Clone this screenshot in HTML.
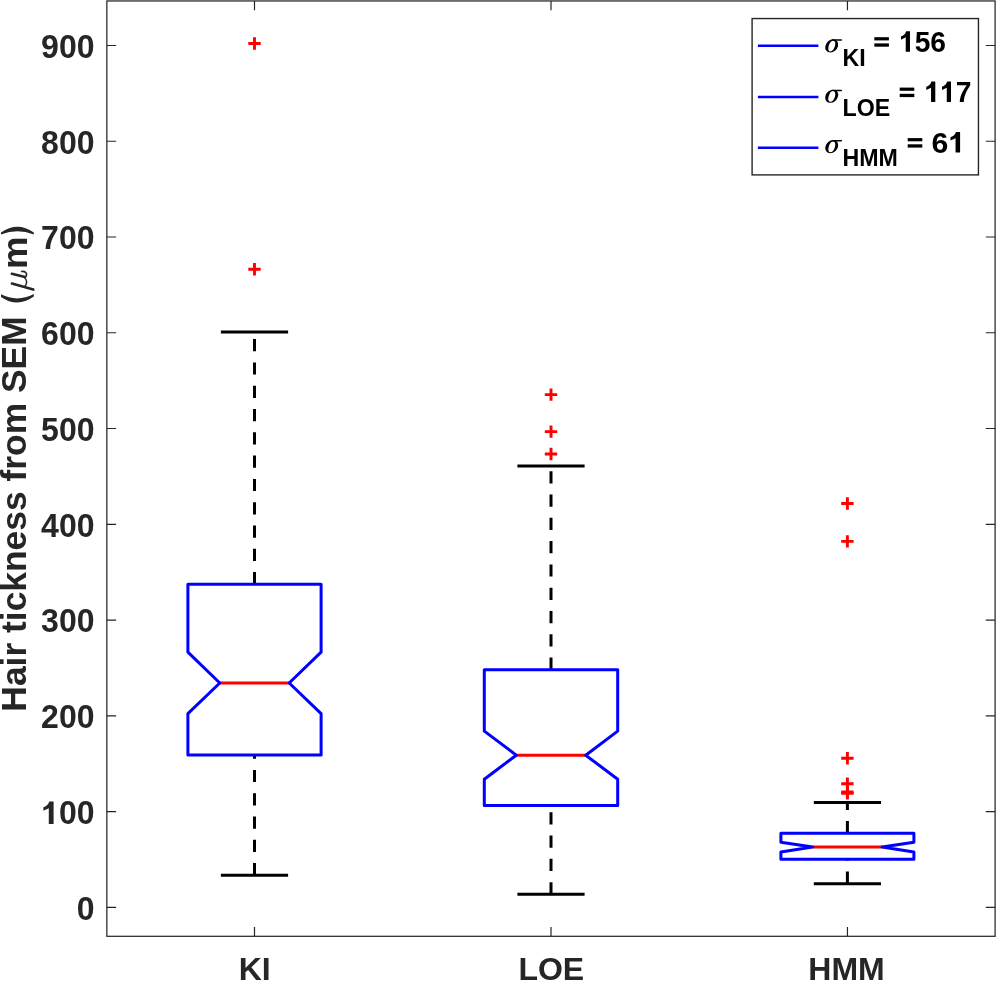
<!DOCTYPE html><html><head><meta charset="utf-8"><style>html,body{margin:0;padding:0;background:#fff;}svg{display:block;will-change:transform;}.t{font-family:"Liberation Sans",sans-serif;font-weight:bold;fill:#262626;}</style></head><body>
<svg width="996" height="982" viewBox="0 0 996 982">
<rect x="0" y="0" width="996" height="982" fill="#fff"/>
<path d="M254.5,584.3V331.9" stroke="#000" stroke-width="3.0" stroke-dasharray="12.2 11.1" fill="none"/>
<path d="M254.5,875.3V755.0" stroke="#000" stroke-width="3.0" stroke-dasharray="12.2 11.1" fill="none"/>
<path d="M220.9,331.9H288.1M220.9,875.3H288.1" stroke="#000" stroke-width="3.0" fill="none"/>
<path d="M219.8,683.0H289.2" stroke="#ff0000" stroke-width="2.9" fill="none"/>
<path d="M187.9,584.3H321.1V652.2L289.2,683.0L321.1,713.6V755.0H187.9V713.6L219.8,683.0L187.9,652.2Z" stroke="#0000ff" stroke-width="3.0" stroke-linejoin="round" fill="none"/>
<path d="M248.3,43.5H260.7M254.5,37.3V49.7" stroke="#ff0000" stroke-width="2.9" fill="none"/>
<path d="M248.3,269.3H260.7M254.5,263.1V275.5" stroke="#ff0000" stroke-width="2.9" fill="none"/>
<path d="M551.0,669.8V465.9" stroke="#000" stroke-width="3.0" stroke-dasharray="12.2 11.1" fill="none"/>
<path d="M551.0,894.35V805.5" stroke="#000" stroke-width="3.0" stroke-dasharray="12.2 11.1" fill="none"/>
<path d="M517.4,465.9H584.6M517.4,894.35H584.6" stroke="#000" stroke-width="3.0" fill="none"/>
<path d="M516.3,755.2H585.7" stroke="#ff0000" stroke-width="2.9" fill="none"/>
<path d="M484.3,669.8H617.7V731.1L585.7,755.2L617.7,779.2V805.5H484.3V779.2L516.3,755.2L484.3,731.1Z" stroke="#0000ff" stroke-width="3.0" stroke-linejoin="round" fill="none"/>
<path d="M544.8,394.6H557.2M551.0,388.40000000000003V400.8" stroke="#ff0000" stroke-width="2.9" fill="none"/>
<path d="M544.8,431.6H557.2M551.0,425.40000000000003V437.8" stroke="#ff0000" stroke-width="2.9" fill="none"/>
<path d="M544.8,454.0H557.2M551.0,447.8V460.2" stroke="#ff0000" stroke-width="2.9" fill="none"/>
<path d="M847.4,833.3V802.45" stroke="#000" stroke-width="3.0" stroke-dasharray="12.2 11.1" fill="none"/>
<path d="M847.4,883.8V859.3" stroke="#000" stroke-width="3.0" stroke-dasharray="12.2 11.1" fill="none"/>
<path d="M813.8,802.45H881.0M813.8,883.8H881.0" stroke="#000" stroke-width="3.0" fill="none"/>
<path d="M812.6999999999999,847.05H882.1" stroke="#ff0000" stroke-width="2.9" fill="none"/>
<path d="M780.9,833.3H913.9V842.3L882.1,847.05L913.9,852.1V859.3H780.9V852.1L812.6999999999999,847.05L780.9,842.3Z" stroke="#0000ff" stroke-width="3.0" stroke-linejoin="round" fill="none"/>
<path d="M841.1999999999999,503.5H853.6M847.4,497.3V509.7" stroke="#ff0000" stroke-width="2.9" fill="none"/>
<path d="M841.1999999999999,541.4H853.6M847.4,535.1999999999999V547.6" stroke="#ff0000" stroke-width="2.9" fill="none"/>
<path d="M841.1999999999999,758.3H853.6M847.4,752.0999999999999V764.5" stroke="#ff0000" stroke-width="2.9" fill="none"/>
<path d="M841.1999999999999,783.7H853.6M847.4,777.5V789.9000000000001" stroke="#ff0000" stroke-width="2.9" fill="none"/>
<path d="M841.1999999999999,792.0H853.6M847.4,785.8V798.2" stroke="#ff0000" stroke-width="2.9" fill="none"/>
<path d="M841.1999999999999,793.4H853.6M847.4,787.1999999999999V799.6" stroke="#ff0000" stroke-width="2.9" fill="none"/>
<rect x="106.85" y="0.95" width="888.25" height="935.3499999999999" fill="none" stroke="#262626" stroke-width="1.25"/>
<path d="M106.85,907.30H116.14999999999999M995.1,907.30H985.8000000000001M106.85,811.54H116.14999999999999M995.1,811.54H985.8000000000001M106.85,715.79H116.14999999999999M995.1,715.79H985.8000000000001M106.85,620.03H116.14999999999999M995.1,620.03H985.8000000000001M106.85,524.28H116.14999999999999M995.1,524.28H985.8000000000001M106.85,428.52H116.14999999999999M995.1,428.52H985.8000000000001M106.85,332.76H116.14999999999999M995.1,332.76H985.8000000000001M106.85,237.01H116.14999999999999M995.1,237.01H985.8000000000001M106.85,141.25H116.14999999999999M995.1,141.25H985.8000000000001M106.85,45.50H116.14999999999999M995.1,45.50H985.8000000000001M254.5,936.3V927.0M254.5,0.95V10.25M551.0,936.3V927.0M551.0,0.95V10.25M847.45,936.3V927.0M847.45,0.95V10.25" stroke="#262626" stroke-width="1.2" fill="none"/>
<text class="t" transform="translate(76.71,919.75) scale(1.0000,1.0300)" font-size="32" style="fill:#262626">0</text>
<path transform="translate(41.12,823.99) scale(0.03200,-0.03296)" d="M390,0L240,0L240,480L72,401L72,508C150,533 225,580 254,682L390,682Z" fill="#262626"/>
<text class="t" transform="translate(58.92,823.99) scale(1.0000,1.0300)" font-size="32" style="fill:#262626">00</text>
<text class="t" transform="translate(41.12,728.24) scale(1.0000,1.0300)" font-size="32" style="fill:#262626">200</text>
<text class="t" transform="translate(41.12,632.48) scale(1.0000,1.0300)" font-size="32" style="fill:#262626">300</text>
<text class="t" transform="translate(41.12,536.73) scale(1.0000,1.0300)" font-size="32" style="fill:#262626">400</text>
<text class="t" transform="translate(41.12,440.97) scale(1.0000,1.0300)" font-size="32" style="fill:#262626">500</text>
<text class="t" transform="translate(41.12,345.21) scale(1.0000,1.0300)" font-size="32" style="fill:#262626">600</text>
<text class="t" transform="translate(41.12,249.46) scale(1.0000,1.0300)" font-size="32" style="fill:#262626">700</text>
<text class="t" transform="translate(41.12,153.70) scale(1.0000,1.0300)" font-size="32" style="fill:#262626">800</text>
<text class="t" transform="translate(41.12,57.95) scale(1.0000,1.0300)" font-size="32" style="fill:#262626">900</text>
<text class="t" x="254.75" y="979.7" font-size="32" text-anchor="middle">KI</text>
<text class="t" x="551.3" y="979.7" font-size="32" text-anchor="middle">LOE</text>
<text class="t" x="846.55" y="979.7" font-size="32" text-anchor="middle">HMM</text>
<text class="t" transform="translate(26.3,711.67) rotate(-90)" font-size="35.4">Hair tickness from SEM</text>
<path d="M1.0,297.0Q17.3,308.2 33.8,296.6L33.8,294.0Q17.3,302.6 1.0,294.3Z" fill="#262626"/>
<path d="M1.0,232.4Q17.3,221.0 33.8,232.4L33.8,234.6Q17.3,228.0 1.0,234.6Z" fill="#262626"/>
<g fill="none" stroke="#262626" stroke-linecap="round"><path d="M11.9,273.8L25.0,277.0" stroke-width="2.6"/><path d="M25.0,277.0C26.8,276.6 27.0,274.0 25.8,272.6C24.8,271.6 23.0,271.2 21.6,271.5" stroke-width="1.6"/><path d="M24.4,277.5C27.0,279.5 27.3,283.5 25.2,285.8" stroke-width="1.5"/><path d="M11.9,283.6L33.3,289.6" stroke-width="2.6"/></g>
<text transform="translate(26.70,269.06) rotate(-90) scale(1.035,1)" font-size="35.4" style="font-family:&quot;Liberation Sans&quot;,sans-serif;fill:#262626;font-weight:bold;">m</text>
<rect x="752.1" y="18.55" width="226.35000000000002" height="156.35" fill="#fff" stroke="#262626" stroke-width="1.4"/>
<path d="M757.9,45.7H818.4" stroke="#0000ff" stroke-width="2.6" fill="none"/>
<g transform="translate(0,0.0)"><g transform="translate(831.7,45.9) skewX(-12)"><ellipse rx="6.35" ry="6.6" fill="#000"/></g><g transform="translate(831.8,46.1) skewX(-16)"><ellipse rx="3.15" ry="5.35" fill="#fff"/></g><path d="M831.5,39.3H841.2Q842.1,39.3 842.1,40.05Q842.1,40.8 841.2,40.8H833.6Z" fill="#000"/></g>
<text class="t" x="842.55" y="65.50" font-size="23.2" style="fill:#000">KI</text>
<rect x="874.3" y="37.20" width="14.6" height="3.2" fill="#000"/>
<rect x="874.3" y="43.40" width="14.6" height="3.3" fill="#000"/>
<path transform="translate(898.97,51.70) scale(0.02821,-0.03009)" d="M390,0L240,0L240,480L72,401L72,508C150,533 225,580 254,682L390,682Z" fill="#000"/>
<text class="t" transform="translate(914.65,51.70) scale(0.9561,1.0200)" font-size="29.5" style="fill:#000">56</text>
<path d="M757.9,97.0H818.4" stroke="#0000ff" stroke-width="2.6" fill="none"/>
<g transform="translate(0,50.35)"><g transform="translate(831.7,45.9) skewX(-12)"><ellipse rx="6.35" ry="6.6" fill="#000"/></g><g transform="translate(831.8,46.1) skewX(-16)"><ellipse rx="3.15" ry="5.35" fill="#fff"/></g><path d="M831.5,39.3H841.2Q842.1,39.3 842.1,40.05Q842.1,40.8 841.2,40.8H833.6Z" fill="#000"/></g>
<text class="t" x="842.55" y="115.90" font-size="23.2" style="fill:#000">LOE</text>
<rect x="899.7" y="87.60" width="14.6" height="3.2" fill="#000"/>
<rect x="899.7" y="93.80" width="14.6" height="3.3" fill="#000"/>
<path transform="translate(924.26,102.10) scale(0.02827,-0.03009)" d="M390,0L240,0L240,480L72,401L72,508C150,533 225,580 254,682L390,682Z" fill="#000"/>
<path transform="translate(939.98,102.10) scale(0.02827,-0.03009)" d="M390,0L240,0L240,480L72,401L72,508C150,533 225,580 254,682L390,682Z" fill="#000"/>
<text class="t" transform="translate(955.70,102.10) scale(0.9582,1.0200)" font-size="29.5" style="fill:#000">7</text>
<path d="M757.9,147.8H818.4" stroke="#0000ff" stroke-width="2.6" fill="none"/>
<g transform="translate(0,100.8)"><g transform="translate(831.7,45.9) skewX(-12)"><ellipse rx="6.35" ry="6.6" fill="#000"/></g><g transform="translate(831.8,46.1) skewX(-16)"><ellipse rx="3.15" ry="5.35" fill="#fff"/></g><path d="M831.5,39.3H841.2Q842.1,39.3 842.1,40.05Q842.1,40.8 841.2,40.8H833.6Z" fill="#000"/></g>
<text class="t" x="842.55" y="166.40" font-size="23.2" style="fill:#000">HMM</text>
<rect x="907.7" y="138.10" width="14.6" height="3.2" fill="#000"/>
<rect x="907.7" y="144.30" width="14.6" height="3.3" fill="#000"/>
<text class="t" transform="translate(931.48,152.60) scale(1.0255,1.0200)" font-size="29.5" style="fill:#000">6</text>
<path transform="translate(948.30,152.60) scale(0.03025,-0.03009)" d="M390,0L240,0L240,480L72,401L72,508C150,533 225,580 254,682L390,682Z" fill="#000"/>
</svg></body></html>
